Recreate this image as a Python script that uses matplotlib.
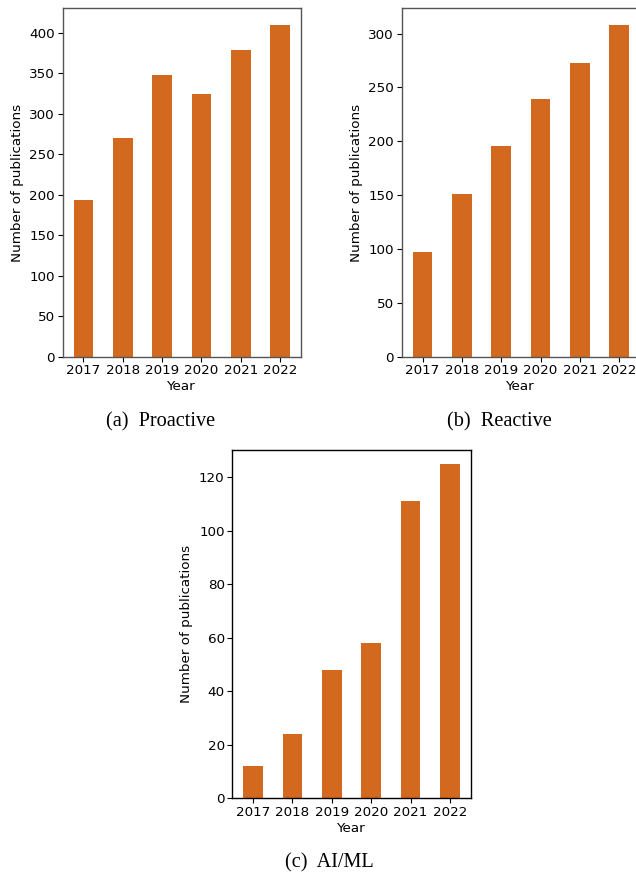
import matplotlib
matplotlib.use("Agg")
import matplotlib.pyplot as plt
import numpy as np

years = ["2017", "2018", "2019", "2020", "2021", "2022"]
proactive = [194, 270, 348, 324, 379, 410]
reactive = [97, 151, 196, 239, 273, 308]
aiml = [12, 24, 48, 58, 111, 125]
captions = ["(a)  Proactive", "(b)  Reactive", "(c)  AI/ML"]

W, H = 636, 875
fig = plt.figure(figsize=(W / 100, H / 100), dpi=100)

def px_axes(l, t, r, b):
    return fig.add_axes([l / W, 1 - b / H, (r - l) / W, (b - t) / H])

color = "#D2691E"
tick_fs = 9.7

def draw(ax, vals, yticks, ymax, spine_color):
    x = np.arange(len(years))
    ax.bar(x, vals, width=0.5, color=color)
    ax.set_xlim(-0.53, len(years) - 0.47)
    ax.set_ylim(0, ymax)
    ax.set_xticks(x)
    ax.set_xticklabels(years, fontsize=tick_fs)
    ax.set_yticks(yticks)
    ax.tick_params(axis="y", labelsize=tick_fs)
    ax.set_xlabel("Year", fontsize=tick_fs, labelpad=2)
    ax.set_ylabel("Number of publications", fontsize=tick_fs, labelpad=4)
    for s in ax.spines.values():
        s.set_color(spine_color)
        s.set_linewidth(1.0)
    ax.tick_params(length=3.5, width=0.8, pad=2)

ax1 = px_axes(62.5, 8.3, 301, 356.7)
draw(ax1, proactive, range(0, 401, 50), 430, "#555555")

ax2 = px_axes(401.7, 8.3, 640, 356.7)
draw(ax2, reactive, range(0, 301, 50), 323.5, "#555555")

ax3 = px_axes(232.3, 450.3, 470.7, 798.3)
draw(ax3, aiml, range(0, 121, 20), 130, "black")

cap_font = dict(family=["Liberation Serif", "DejaVu Serif"], fontsize=14.6,
                ha="center", va="center")
fig.text(160.5 / W, 1 - 422 / H, captions[0], **cap_font)
fig.text(499 / W, 1 - 422 / H, captions[1], **cap_font)
fig.text(329.7 / W, 1 - 863 / H, captions[2], **cap_font)

fig.savefig("out.png", dpi=100)
